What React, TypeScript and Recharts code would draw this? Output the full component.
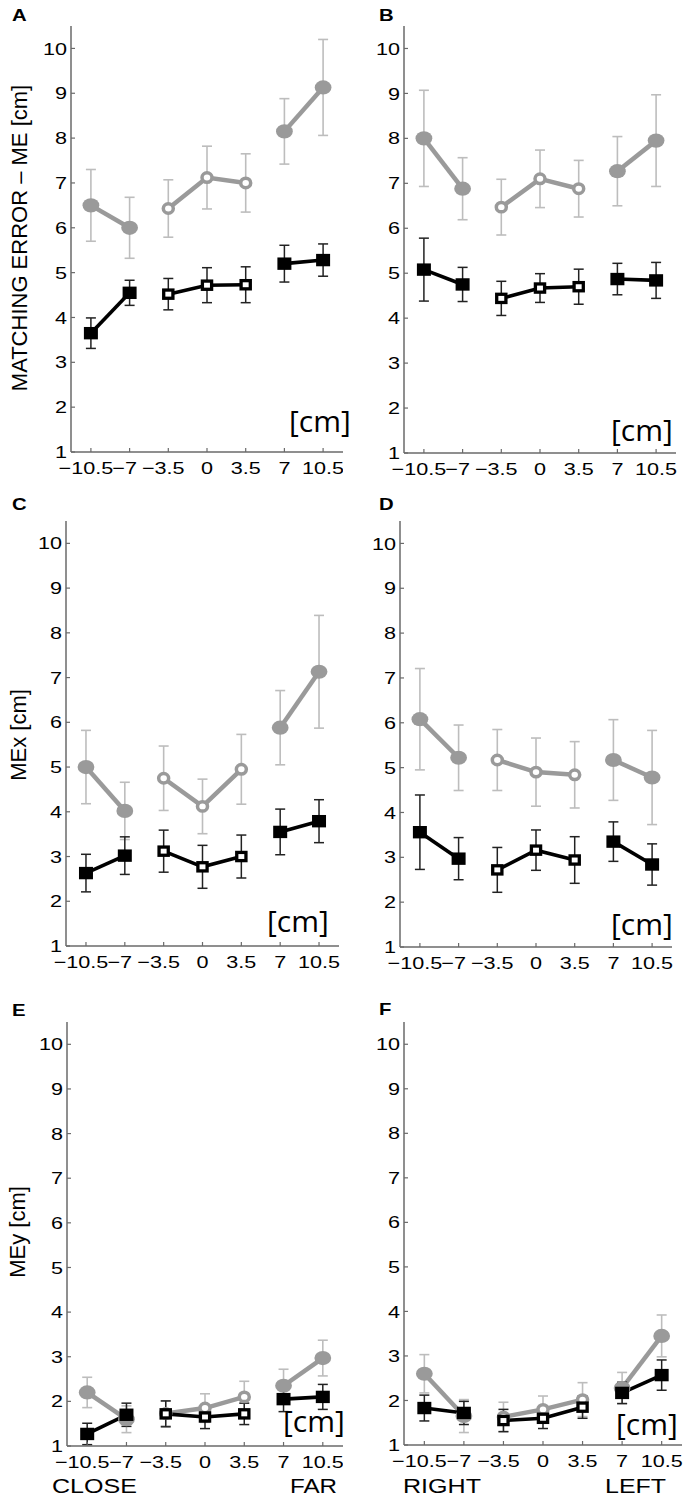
import React from 'react';
import { LineChart, Line, XAxis, YAxis, ErrorBar } from 'recharts';

// target positions on the table [cm]
const positions = [-10.5, -7, -3.5, 0, 3.5, 7, 10.5];
const xTickLabels = ['\u221210.5', '\u22127', '\u22123.5', '0', '3.5', '7', '10.5'];
const yTicks = [1, 2, 3, 4, 5, 6, 7, 8, 9, 10];
// grouped positions that are joined by a line (outer ones use filled markers)
const segments = [[0, 1], [2, 3, 4], [5, 6]];

// A - matching error
const grayA = [6.5, 6.0, 6.43, 7.12, 7.0, 8.15, 9.13];
const grayErrA = [0.8, 0.68, 0.64, 0.7, 0.65, 0.73, 1.07];
const blackA = [3.65, 4.55, 4.52, 4.72, 4.73, 5.2, 5.28];
const blackErrA = [0.34, 0.28, 0.35, 0.39, 0.4, 0.41, 0.36];

// B
const grayB = [8.0, 6.88, 6.47, 7.1, 6.88, 7.27, 7.95];
const grayErrB = [1.07, 0.69, 0.62, 0.64, 0.63, 0.77, 1.02];
const blackB = [5.08, 4.75, 4.44, 4.67, 4.7, 4.87, 4.84];
const blackErrB = [0.7, 0.38, 0.38, 0.32, 0.39, 0.35, 0.4];

// C - MEx
const grayC = [5.0, 4.02, 4.75, 4.12, 4.95, 5.88, 7.13];
const grayErrC = [0.82, 0.64, 0.72, 0.61, 0.78, 0.83, 1.26];
const blackC = [2.63, 3.02, 3.12, 2.77, 3.0, 3.55, 3.79];
const blackErrC = [0.42, 0.42, 0.47, 0.48, 0.48, 0.51, 0.48];

// D
const grayD = [6.08, 5.22, 5.17, 4.9, 4.84, 5.17, 4.78];
const grayErrD = [1.13, 0.73, 0.68, 0.76, 0.74, 0.9, 1.05];
const blackD = [3.56, 2.97, 2.72, 3.16, 2.94, 3.35, 2.84];
const blackErrD = [0.83, 0.47, 0.5, 0.45, 0.52, 0.44, 0.46];

// E - MEy
const grayE = [2.2, 1.6, 1.73, 1.85, 2.1, 2.35, 2.97];
const grayErrE = [0.34, 0.3, 0.28, 0.32, 0.35, 0.37, 0.4];
const blackE = [1.27, 1.7, 1.72, 1.65, 1.72, 2.05, 2.1];
const blackErrE = [0.24, 0.26, 0.29, 0.26, 0.24, 0.28, 0.28];

// F
const grayF = [2.6, 1.65, 1.63, 1.8, 2.02, 2.28, 3.45];
const grayErrF = [0.43, 0.37, 0.33, 0.3, 0.38, 0.35, 0.47];
const blackF = [1.83, 1.72, 1.55, 1.6, 1.85, 2.17, 2.57];
const blackErrF = [0.29, 0.26, 0.25, 0.23, 0.25, 0.24, 0.34];

const GRAY = '#9a9a9a';
const GRAY_ERR = '#bdbdbd';
const AXIS = '#6a6a6a';
const SANS = '"Liberation Sans", Arial, sans-serif';
const STRETCH = 1.27; // the figure is a bit wider than tall, text included
const X_MARGIN = 10;

const panels = [
  { key: 'A', gray: grayA, grayErr: grayErrA, black: blackA, blackErr: blackErrA, left: 0, top: 0, w: 343, h: 490, yw: 71, r: 0, t: 26, xh: 38 },
  { key: 'B', gray: grayB, grayErr: grayErrB, black: blackB, blackErr: blackErrB, left: 343, top: 0, w: 343, h: 490, yw: 61, r: 10, t: 26, xh: 37 },
  { key: 'C', gray: grayC, grayErr: grayErrC, black: blackC, blackErr: blackErrC, left: 0, top: 490, w: 343, h: 490, yw: 66, r: 4, t: 31, xh: 34 },
  { key: 'D', gray: grayD, grayErr: grayErrD, black: blackD, blackErr: blackErrD, left: 343, top: 490, w: 343, h: 490, yw: 57, r: 14, t: 31, xh: 33 },
  { key: 'E', gray: grayE, grayErr: grayErrE, black: blackE, blackErr: blackErrE, left: 0, top: 980, w: 343, h: 518, yw: 67, r: 0, t: 42, xh: 52 },
  { key: 'F', gray: grayF, grayErr: grayErrF, black: blackF, blackErr: blackErrF, left: 343, top: 980, w: 343, h: 518, yw: 61, r: 4, t: 42, xh: 53 },
];

const toPoints = (vals: number[], errs: number[], idx: number[]) =>
  idx.map((i) => ({ x: positions[i], y: vals[i], e: errs[i] }));

const XTick = (props: any) => {
  const { x, y, payload } = props;
  const i = positions.indexOf(payload.value);
  const shift = payload.value < 0 ? -5 : 0; // minus sign hangs to the left
  return (
    <g>
      <line x1={x} x2={x} y1={y - X_MARGIN} y2={y - X_MARGIN - 4} stroke={AXIS} strokeWidth={1.2} />
      <text
        transform={`translate(${x + shift},${y}) scale(${STRETCH},1)`}
        dy="0.71em"
        textAnchor="middle"
        fontFamily={SANS}
        fontSize={17}
        fill="#000"
      >
        {xTickLabels[i]}
      </text>
    </g>
  );
};

const YTick = (props: any) => {
  const { x, y, payload } = props;
  return (
    <g>
      <line x1={x + 4} x2={x + 8} y1={y} y2={y} stroke={AXIS} strokeWidth={1.2} />
      <text
        transform={`translate(${x},${y}) scale(${STRETCH},1)`}
        dy="0.36em"
        textAnchor="end"
        fontFamily={SANS}
        fontSize={17}
        fill="#000"
      >
        {payload.value}
      </text>
    </g>
  );
};

const grayFilled = (p: any) => <ellipse key={`gf${p.index}`} cx={p.cx} cy={p.cy} rx={8.4} ry={7.1} fill={GRAY} />;
const grayOpen = (p: any) => (
  <ellipse key={`go${p.index}`} cx={p.cx} cy={p.cy} rx={5} ry={4.7} fill="#fff" stroke={GRAY} strokeWidth={3.5} />
);
const blackFilled = (p: any) => <rect key={`bf${p.index}`} x={p.cx - 7} y={p.cy - 6.2} width={14} height={12.4} fill="#000" />;
const blackOpen = (p: any) => (
  <rect key={`bo${p.index}`} x={p.cx - 4.6} y={p.cy - 4.1} width={9.2} height={8.2} fill="#fff" stroke="#000" strokeWidth={3.3} />
);

function Panel({ cfg }: { cfg: (typeof panels)[number] }) {
  return (
    <div style={{ position: 'absolute', left: cfg.left, top: cfg.top }}>
      <LineChart width={cfg.w} height={cfg.h} margin={{ top: cfg.t, right: cfg.r, left: 0, bottom: 0 }}>
        <XAxis
          type="number"
          dataKey="x"
          domain={[-12.3, 12.3]}
          ticks={positions}
          interval={0}
          height={cfg.xh}
          axisLine={{ stroke: AXIS, strokeWidth: 1.5 }}
          tickLine={false}
          tickSize={0}
          tickMargin={X_MARGIN}
          tick={<XTick />}
        />
        <YAxis
          type="number"
          dataKey="y"
          domain={[1, 10.5]}
          ticks={yTicks}
          interval={0}
          width={cfg.yw}
          axisLine={{ stroke: AXIS, strokeWidth: 1.5 }}
          tickLine={false}
          tickSize={0}
          tickMargin={4}
          tick={<YTick />}
        />
        {segments.map((idx, s) => (
          <Line
            key={`g${s}`}
            data={toPoints(cfg.gray, cfg.grayErr, idx)}
            dataKey="y"
            stroke={GRAY}
            strokeWidth={4.5}
            dot={s === 1 ? grayOpen : grayFilled}
            activeDot={false}
            isAnimationActive={false}
          >
            <ErrorBar dataKey="e" direction="y" width={5} stroke={GRAY_ERR} strokeWidth={1.6} />
          </Line>
        ))}
        {segments.map((idx, s) => (
          <Line
            key={`b${s}`}
            data={toPoints(cfg.black, cfg.blackErr, idx)}
            dataKey="y"
            stroke="#000"
            strokeWidth={3.6}
            dot={s === 1 ? blackOpen : blackFilled}
            activeDot={false}
            isAnimationActive={false}
          >
            <ErrorBar dataKey="e" direction="y" width={5} stroke="#222" strokeWidth={1.5} />
          </Line>
        ))}
      </LineChart>
    </div>
  );
}

// panel letters, axis titles and unit notes
const letterPos = [
  { t: 'A', x: 12, y: 21 }, { t: 'B', x: 379, y: 21 },
  { t: 'C', x: 12, y: 510 }, { t: 'D', x: 379, y: 510 },
  { t: 'E', x: 12, y: 1016 }, { t: 'F', x: 379, y: 1015 },
];
const cmPos = [
  { x: 289, y: 432 }, { x: 611, y: 441 }, { x: 267, y: 932 },
  { x: 611, y: 935 }, { x: 283, y: 1432 }, { x: 616, y: 1435 },
];
const yTitles = [
  { t: 'MATCHING ERROR \u2013 ME [cm]', x: 27, y: 238 },
  { t: 'MEx [cm]', x: 26, y: 735 },
  { t: 'MEy [cm]', x: 25, y: 1232 },
];
const dirLabels = [
  { t: 'CLOSE', x: 52, y: 1493, len: 85 },
  { t: 'FAR', x: 290, y: 1493, len: 47 },
  { t: 'RIGHT', x: 403, y: 1493, len: 78 },
  { t: 'LEFT', x: 605, y: 1493, len: 61 },
];

export default function App() {
  return (
    <div style={{ position: 'absolute', left: 0, top: 0, width: 686, height: 1498, background: '#fff', overflow: 'hidden' }}>
      {panels.map((p) => (
        <Panel key={p.key} cfg={p} />
      ))}
      <svg width={686} height={1498} style={{ position: 'absolute', left: 0, top: 0, pointerEvents: 'none' }}>
        {letterPos.map((l) => (
          <text
            key={l.t}
            transform={`translate(${l.x},${l.y}) scale(${STRETCH},1)`}
            fontFamily={SANS}
            fontWeight="bold"
            fontSize={16}
            fill="#000"
          >
            {l.t}
          </text>
        ))}
        {cmPos.map((c, i) => (
          <text key={i} x={c.x} y={c.y} fontFamily='"Open Sans", sans-serif' fontSize={30} fill="#000">
            [cm]
          </text>
        ))}
        {yTitles.map((t) => (
          <text
            key={t.t}
            transform={`translate(${t.x},${t.y}) rotate(-90)`}
            textAnchor="middle"
            fontFamily={SANS}
            fontSize={22}
            fill="#000"
          >
            {t.t}
          </text>
        ))}
        {dirLabels.map((d) => (
          <text
            key={d.t}
            x={d.x}
            y={d.y}
            textLength={d.len}
            lengthAdjust="spacingAndGlyphs"
            fontFamily={SANS}
            fontSize={21}
            fill="#000"
          >
            {d.t}
          </text>
        ))}
      </svg>
    </div>
  );
}
